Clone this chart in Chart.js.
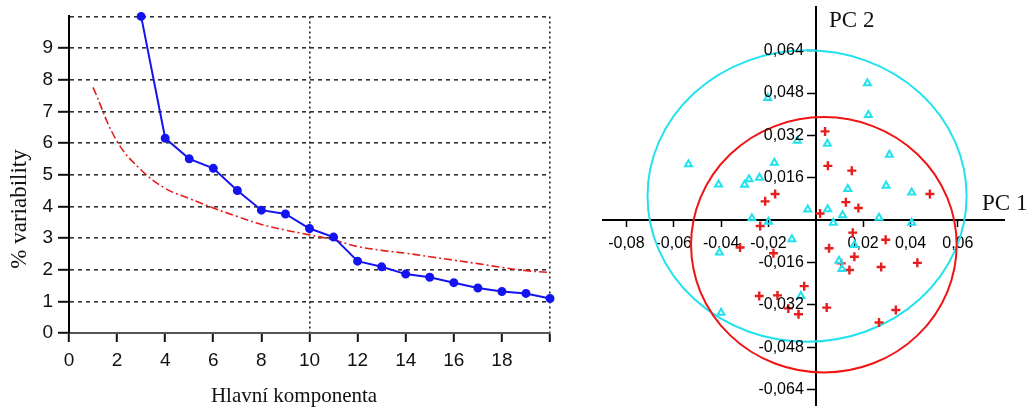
<!DOCTYPE html>
<html lang="cs">
<head>
<meta charset="utf-8">
<script src="https://cdn.jsdelivr.net/npm/chart.js@4.4.1/dist/chart.umd.min.js"></script>
<style>
  html, body { margin: 0; padding: 0; background: #fff; }
  #obal { position: relative; width: 1031px; height: 412px; overflow: hidden; }
  #graf1 { position: absolute; left: 0; top: 0; width: 590px; height: 412px; }
  #graf2 { position: absolute; left: 590px; top: 0; width: 441px; height: 412px; }
</style>
</head>
<body>
<div id="obal">
  <canvas id="graf1" width="590" height="412"></canvas>
  <canvas id="graf2" width="441" height="412"></canvas>
</div>
<script>
// scree plot - vlastni cisla (modra) a nahodny model (cervena carkovana)
const komponenty = [3, 4, 5, 6, 7, 8, 9, 10, 11, 12, 13, 14, 15, 16, 17, 18, 19, 20];
const variabilita = [10, 6.15, 5.5, 5.2, 4.5, 3.88, 3.76, 3.3, 3.03, 2.27, 2.09, 1.86, 1.76, 1.59, 1.42, 1.31, 1.25, 1.09];
const komponentyModel = [1, 2, 3, 4, 5, 6, 7, 8, 9, 10, 11, 12, 13, 14, 15, 16, 17, 18, 19, 20];
const variabilitaModel = [7.76, 6.05, 5.15, 4.57, 4.25, 3.95, 3.68, 3.43, 3.25, 3.1, 2.94, 2.73, 2.61, 2.52, 2.41, 2.3, 2.19, 2.07, 1.97, 1.91];

// skore PC1 / PC2 - dve skupiny
const pc1Trojuhelniky = [-0.0203, -0.0078, -0.0538, -0.0175, -0.0411, -0.0301, -0.0282, -0.0238, -0.0034, -0.0270,
  0.0218, 0.0222, 0.0049, 0.0311, 0.0135, 0.0297, 0.0405, 0.0050, 0.0113, 0.0267,
  0.0074, 0.0405, 0.0163, 0.0098, 0.0110, -0.0200, -0.0101, -0.0407, -0.0063, -0.0400];
const pc2Trojuhelniky = [0.0461, 0.0300, 0.0211, 0.0217, 0.0135, 0.0134, 0.0154, 0.0160, 0.0040, 0.0007,
  0.0517, 0.0397, 0.0288, 0.0247, 0.0118, 0.0130, 0.0104, 0.0041, 0.0019, 0.0009,
  -0.0010, -0.0010, -0.0094, -0.0153, -0.0184, -0.0006, -0.0072, -0.0122, -0.0286, -0.0349];
const pc1Krizky = [-0.0172, -0.0214, -0.0235, -0.0320, -0.0179, -0.0049, -0.0239, -0.0162, -0.0116, -0.0073,
  0.0039, 0.0051, 0.0152, 0.0482, 0.0127, 0.0180, 0.0018, 0.0156, 0.0295, 0.0056,
  0.0163, 0.0107, 0.0142, 0.0276, 0.0429, 0.0046, 0.0338, 0.0267];
const pc2Krizky = [0.0099, 0.0071, -0.0022, -0.0103, -0.0125, -0.0249, -0.0286, -0.0284, -0.0333, -0.0355,
  0.0335, 0.0205, 0.0187, 0.0099, 0.0068, 0.0046, 0.0025, -0.0047, -0.0074, -0.0106,
  -0.0138, -0.0163, -0.0188, -0.0177, -0.0161, -0.0330, -0.0339, -0.0386];

// elipsy skupin (stred a poloosy v jednotkach skore)
const elipsaStredX = [-0.0037, 0.0034];
const elipsaStredY = [0.0091, -0.0093];
const elipsaPoloosaX = [0.0674, 0.0561];
const elipsaPoloosaY = [0.0550, 0.0482];

const znackyPC1 = [-0.08, -0.06, -0.04, -0.02, 0.02, 0.04, 0.06];
const znackyPC2 = [-0.064, -0.048, -0.032, -0.016, 0.016, 0.032, 0.048, 0.064];

const MODRA = "#1414f0";
const CERVENA = "#e61e1e";
const AZUROVA = "#22e2ee";
const barvyElips = [AZUROVA, "#f01414"];

// popisky os leveho grafu
const popiskyScree = {
  id: "popiskyScree",
  afterDraw(chart) {
    const ctx = chart.ctx;
    ctx.save();
    ctx.fillStyle = "#111";
    ctx.font = '23px "Liberation Serif"';
    ctx.textAlign = "center";
    ctx.textBaseline = "middle";
    ctx.translate(20, 209);
    ctx.rotate(-Math.PI / 2);
    ctx.fillText("% variability", 0, 0);
    ctx.restore();

    ctx.save();
    ctx.fillStyle = "#111";
    ctx.font = '21px "Liberation Serif"';
    ctx.textAlign = "center";
    ctx.textBaseline = "alphabetic";
    ctx.fillText("Hlavní komponenta", 294, 402);
    ctx.restore();
  }
};

// elipsy se kresli pres meritka grafu
const elipsy = {
  id: "elipsy",
  beforeDatasetsDraw(chart) {
    const { ctx, scales: { x, y } } = chart;
    ctx.save();
    ctx.lineWidth = 2;
    elipsaStredX.forEach((sx, i) => {
      const px = x.getPixelForValue(sx);
      const py = y.getPixelForValue(elipsaStredY[i]);
      const rx = Math.abs(x.getPixelForValue(sx + elipsaPoloosaX[i]) - px);
      const ry = Math.abs(y.getPixelForValue(elipsaStredY[i] + elipsaPoloosaY[i]) - py);
      ctx.strokeStyle = barvyElips[i];
      ctx.beginPath();
      ctx.ellipse(px, py, rx, ry, 0, 0, Math.PI * 2);
      ctx.stroke();
    });
    ctx.restore();
  }
};

// nazvy os PC a popisky osy y (Chart.js je u osy v poloze {x:0} lepi primo na caru)
const popiskyPC = {
  id: "popiskyPC",
  afterDraw(chart) {
    const { ctx, scales: { x, y } } = chart;
    const osa = x.getPixelForValue(0);
    ctx.save();
    ctx.fillStyle = "#000";
    ctx.font = '16px "Liberation Sans"';
    ctx.textAlign = "right";
    ctx.textBaseline = "middle";
    y.ticks.forEach(t => {
      ctx.fillText(t.label, osa - 12, y.getPixelForValue(t.value));
    });
    ctx.restore();

    ctx.save();
    ctx.fillStyle = "#111";
    ctx.font = '23px "Liberation Serif"';
    ctx.textAlign = "left";
    ctx.textBaseline = "alphabetic";
    ctx.fillText("PC 2", 239, 27);
    ctx.fillText("PC 1", 392, 210);
    ctx.restore();
  }
};

const pismoOs = { family: "Liberation Sans", size: 19 };

new Chart(document.getElementById("graf1"), {
  type: "line",
  data: {
    datasets: [
      {
        label: "Vlastní čísla",
        data: komponenty.map((k, i) => ({ x: k, y: variabilita[i] })),
        borderColor: MODRA,
        backgroundColor: MODRA,
        borderWidth: 2,
        pointRadius: 3.5,
        pointHoverRadius: 3.5,
        tension: 0,
        clip: false
      },
      {
        label: "Model",
        data: komponentyModel.map((k, i) => ({ x: k, y: variabilitaModel[i] })),
        borderColor: CERVENA,
        borderWidth: 1.6,
        borderDash: [8, 3, 2, 3],
        pointRadius: 0,
        tension: 0.4,
        clip: false
      }
    ]
  },
  options: {
    responsive: false,
    animation: false,
    layout: { padding: { top: 14, right: 40, left: 0, bottom: 0 } },
    plugins: { legend: { display: false }, tooltip: { enabled: false } },
    scales: {
      x: {
        type: "linear",
        min: 0,
        max: 20,
        afterFit: s => { s.height = 79; },
        ticks: {
          stepSize: 2,
          padding: 7,
          color: "#111",
          font: pismoOs,
          maxRotation: 0,
          callback: v => (v === 20 ? "" : v)
        },
        grid: {
          color: c => (c.tick && (c.tick.value === 10 || c.tick.value === 20)) ? "#222" : "transparent",
          lineWidth: 1.6,
          tickLength: 9,
          tickColor: "#111",
          tickWidth: 2
        },
        border: { color: "#555", width: 2, dash: [2, 3] }
      },
      y: {
        min: 0,
        max: 10,
        afterFit: s => { s.width = 69; },
        ticks: {
          stepSize: 1,
          padding: 5,
          color: "#111",
          font: pismoOs,
          callback: v => (v === 10 ? "" : v)
        },
        grid: {
          color: c => (c.tick && c.tick.value > 0) ? "#333" : "transparent",
          lineWidth: 1.6,
          tickLength: 11,
          tickColor: c => (c.tick && c.tick.value === 10) ? "transparent" : "#111",
          tickWidth: 2
        },
        border: { color: "#000", width: 2, dash: [4, 4] }
      }
    }
  },
  plugins: [popiskyScree]
});

const pismoPC = { family: "Liberation Sans", size: 16 };

new Chart(document.getElementById("graf2"), {
  type: "scatter",
  data: {
    datasets: [
      {
        label: "Skupina 1",
        data: pc1Trojuhelniky.map((v, i) => ({ x: v, y: pc2Trojuhelniky[i] })),
        pointStyle: "triangle",
        pointRadius: 4,
        pointHoverRadius: 4,
        borderColor: AZUROVA,
        backgroundColor: "rgba(0,0,0,0)",
        borderWidth: 2
      },
      {
        label: "Skupina 2",
        data: pc1Krizky.map((v, i) => ({ x: v, y: pc2Krizky[i] })),
        pointStyle: "cross",
        pointRadius: 4.5,
        pointHoverRadius: 4.5,
        borderColor: CERVENA,
        borderWidth: 2.4
      }
    ]
  },
  options: {
    responsive: false,
    animation: false,
    layout: { padding: { left: 13, right: 27, top: 6, bottom: 2 } },
    plugins: { legend: { display: false }, tooltip: { enabled: false } },
    scales: {
      x: {
        type: "linear",
        position: { y: 0 },
        min: -0.0899,
        max: 0.0795,
        afterFit: s => { s.height = 0; },
        afterBuildTicks: s => { s.ticks = znackyPC1.map(v => ({ value: v })); },
        ticks: {
          padding: 8,
          color: "#000",
          font: pismoPC,
          autoSkip: false,
          maxRotation: 0,
          callback: v => v.toFixed(2).replace(".", ",")
        },
        grid: { drawOnChartArea: false, tickLength: 6, tickColor: "#000", tickWidth: 1.5 },
        border: { color: "#000", width: 2 }
      },
      y: {
        type: "linear",
        position: { x: 0 },
        min: -0.0698,
        max: 0.0805,
        afterFit: s => { s.width = 0; },
        afterBuildTicks: s => { s.ticks = znackyPC2.map(v => ({ value: v })); },
        ticks: {
          display: false,
          autoSkip: false,
          callback: v => v.toFixed(3).replace(".", ",")
        },
        grid: { drawOnChartArea: false, tickLength: 8, tickColor: "#000", tickWidth: 1.5 },
        border: { color: "#000", width: 2 }
      }
    }
  },
  plugins: [elipsy, popiskyPC]
});
</script>
</body>
</html>
